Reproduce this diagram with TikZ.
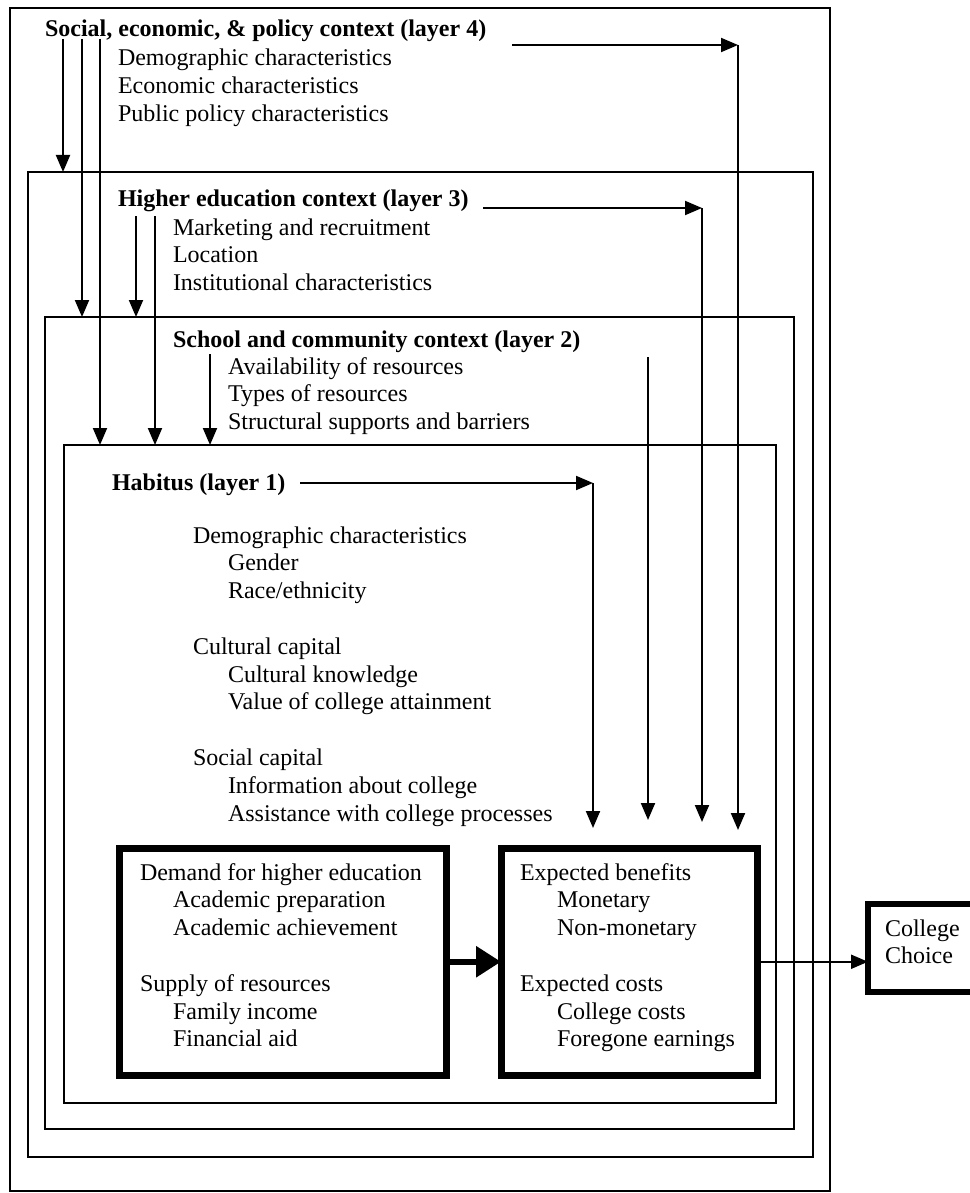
\documentclass[tikz,border=0pt]{standalone}
\usepackage{fontspec}
\setmainfont{Liberation Serif}
\usetikzlibrary{arrows.meta}
\begin{document}
\begin{tikzpicture}[x=1pt,y=-1pt,
  every node/.style={inner sep=0pt, outer sep=0pt},
  txt/.style={anchor=base west, font=\fontsize{24}{27.8}\selectfont},
  hd/.style={anchor=base west, font=\fontsize{24}{27.8}\selectfont\bfseries},
  layer/.style={draw, line width=2pt, anchor=north west},
  thickbox/.style={draw, line width=7pt, anchor=north west},
  conn/.style={line width=2pt, -{Triangle[length=17pt,width=14pt]}},
  bigarrow/.style={line width=6pt, -{Triangle[length=25pt,width=30pt]}},
]
\useasboundingbox (0,0) rectangle (969,1193);

% layer boxes
\node[layer, minimum width=820pt, minimum height=1183pt] (L4) at (10,8) {};
\node[layer, minimum width=785pt, minimum height=985pt] (L3) at (28,172) {};
\node[layer, minimum width=749pt, minimum height=812pt] (L2) at (45,317) {};
\node[layer, minimum width=712pt, minimum height=658pt] (L1) at (64,445) {};

% thick boxes
\node[thickbox, minimum width=327.5pt, minimum height=226.5pt] (DB) at (119,848.5) {};
\node[thickbox, minimum width=256pt, minimum height=226.5pt] (EB) at (501,848.5) {};
\node[draw, line width=6pt, anchor=north west, minimum width=130pt, minimum height=88pt] (CC) at (868,904) {};

% texts
\node[hd] (H4) at (45,37) {Social, economic, \& policy context (layer 4)};
\node[txt] (T4) at (118,66) {\begin{tabular}[t]{@{}l@{}}Demographic characteristics\\Economic characteristics\\Public policy characteristics\end{tabular}};

\node[hd] (H3) at (118,207) {Higher education context (layer 3)};
\node[txt] (T3) at (173,235) {\begin{tabular}[t]{@{}l@{}}Marketing and recruitment\\Location\\Institutional characteristics\end{tabular}};

\node[hd] (H2) at (173,347) {School and community context (layer 2)};
\node[txt] (T2) at (228,374) {\begin{tabular}[t]{@{}l@{}}Availability of resources\\Types of resources\\Structural supports and barriers\end{tabular}};

\node[hd] (H1) at (112,490) {Habitus (layer 1)};
\node[txt] (T1) at (193,543) {\begin{tabular}[t]{@{}l@{}}Demographic characteristics\\
\hspace*{35pt}Gender\\
\hspace*{35pt}Race/ethnicity\\
\\
Cultural capital\\
\hspace*{35pt}Cultural knowledge\\
\hspace*{35pt}Value of college attainment\\
\\
Social capital\\
\hspace*{35pt}Information about college\\
\hspace*{35pt}Assistance with college processes\end{tabular}};

\node[txt] (TD) at (140,880) {\begin{tabular}[t]{@{}l@{}}Demand for higher education\\
\hspace*{33pt}Academic preparation\\
\hspace*{33pt}Academic achievement\\
\\
Supply of resources\\
\hspace*{33pt}Family income\\
\hspace*{33pt}Financial aid\end{tabular}};

\node[txt] (TE) at (520,880) {\begin{tabular}[t]{@{}l@{}}Expected benefits\\
\hspace*{37pt}Monetary\\
\hspace*{37pt}Non-monetary\\
\\
Expected costs\\
\hspace*{37pt}College costs\\
\hspace*{37pt}Foregone earnings\end{tabular}};

\node[txt] (TC) at (885,936) {\begin{tabular}[t]{@{}l@{}}College\\Choice\end{tabular}};

% downward arrows from headings on the left
\coordinate (a4a) at (63,39);
\coordinate (a4b) at (82,39);
\coordinate (a4c) at (100,39);
\coordinate (a3a) at (136,216);
\coordinate (a3b) at (155,216);
\coordinate (a2a) at (210,354);
\draw[conn] (a4a) -- (a4a |- L3.north);
\draw[conn] (a4b) -- (a4b |- L2.north);
\draw[conn] (a4c) -- (a4c |- L1.north);
\draw[conn] (a3a) -- (a3a |- L2.north);
\draw[conn] (a3b) -- (a3b |- L1.north);
\draw[conn] (a2a) -- (a2a |- L1.north);

% right-hand routes down to expected box
\coordinate (r4s) at (512,45);
\coordinate (r4c) at (738,45);
\coordinate (r4e) at (738,830);
\draw[conn] (r4s) -- (r4c);
\draw[conn] (r4c) -- (r4e);

\coordinate (r3s) at (483,208);
\coordinate (r3c) at (702,208);
\coordinate (r3e) at (702,822);
\draw[conn] (r3s) -- (r3c);
\draw[conn] (r3c) -- (r3e);

\coordinate (r2s) at (648,357);
\coordinate (r2e) at (648,820);
\draw[conn] (r2s) -- (r2e);

\coordinate (r1s) at (300,483);
\coordinate (r1c) at (593,483);
\coordinate (r1e) at (593,828);
\draw[conn] (r1s) -- (r1c);
\draw[conn] (r1c) -- (r1e);

% between boxes
\draw[bigarrow] (DB.east) -- (EB.west);
\draw[conn] (EB.east) -- (EB.east -| CC.west);
\end{tikzpicture}
\end{document}
